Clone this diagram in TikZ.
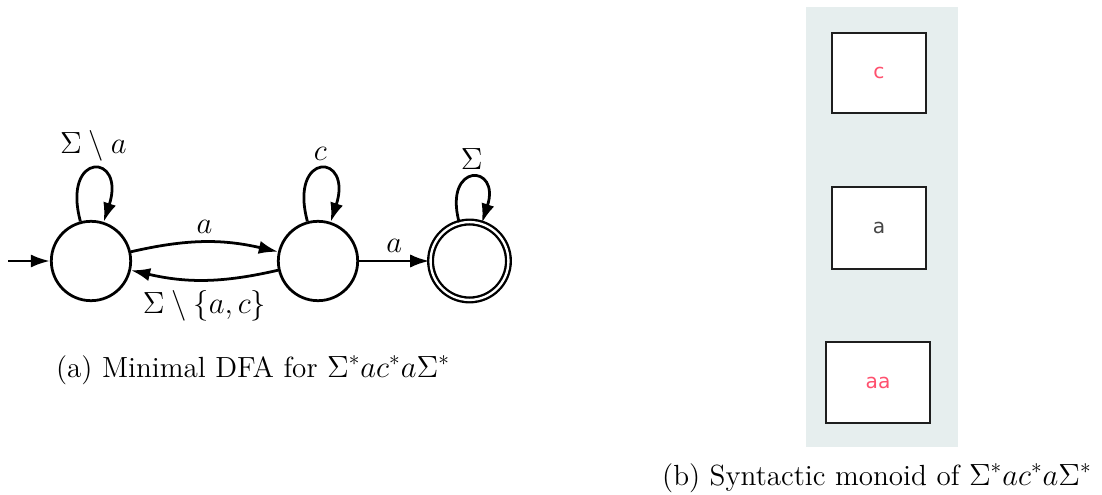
\documentclass[tikz,border=0pt]{standalone}
\usepackage{fontspec}
\newfontfamily\boxfont{DejaVu Sans}
\usetikzlibrary{arrows.meta}
\definecolor{panelgray}{RGB}{230,238,238}
\definecolor{labelred}{RGB}{255,80,110}
\definecolor{labelgray}{RGB}{70,70,70}
\definecolor{boxline}{RGB}{30,30,30}
\begin{document}
\begin{tikzpicture}[x=0.47pt,y=-0.47pt,
  state/.style={circle,draw,line width=1.3pt,minimum size=37.3pt,inner sep=0pt},
  accstate/.style={circle,draw,line width=1.1pt,double,double distance=1.1pt,minimum size=36.6pt,inner sep=0pt},
  trans/.style={line width=1.3pt,-{Latex[length=9pt,width=6.2pt]}},
  lbl/.style={font=\fontsize{14}{17}\selectfont},
  mbox/.style={draw=boxline,line width=1.1pt,fill=white},
  boxtxt/.style={font=\boxfont\fontsize{9.5}{11}\selectfont},
  captxt/.style={font=\fontsize{13.7}{16}\selectfont,anchor=base}]
\useasboundingbox (0,0) rectangle (1102,495);
% DFA
\node[state] (s1) at (91,261) {};
\node[state] (s2) at (318,261) {};
\node[accstate] (s3) at (469.5,261) {};
\coordinate (init) at (8,261);
\draw[trans] (init) -- (s1);
\draw[trans] (s1) to[out=105,in=72,looseness=8] node[lbl,above] (l1) {$\Sigma\setminus a$} (s1);
\draw[trans] (s2) to[out=105,in=72,looseness=8] node[lbl,above] (l2) {$c$} (s2);
\draw[trans] (s3) to[out=105,in=72,looseness=7] node[lbl,above] (l3) {$\Sigma$} (s3);
\draw[trans] (s1) to[bend left=13] node[lbl,above] (l4) {$a$} (s2);
\draw[trans] (s2) to[bend left=13] node[lbl,below=1pt] (l5) {$\Sigma\setminus\{a,c\}$} (s1);
\draw[trans] (s2) -- node[lbl,above] (l6) {$a$} (s3);
\node[captxt] (capa) at (253,377) {(a) Minimal DFA for $\Sigma^*ac^*a\Sigma^*$};
% monoid panel
\fill[panelgray] (806,7) rectangle (958,447);
\node[mbox,minimum width=44pt,minimum height=37.6pt] (bc) at (879,73) {};
\node[boxtxt,text=labelred] (tc) at (bc) {c};
\node[mbox,minimum width=44pt,minimum height=38.5pt] (ba) at (879,228) {};
\node[boxtxt,text=labelgray] (ta) at (ba) {a};
\node[mbox,minimum width=49pt,minimum height=38pt] (baa) at (878,382.5) {};
\node[boxtxt,text=labelred] (taa) at (baa) {aa};
\node[captxt] (capb) at (877,485) {(b) Syntactic monoid of $\Sigma^*ac^*a\Sigma^*$};
\end{tikzpicture}
\end{document}
